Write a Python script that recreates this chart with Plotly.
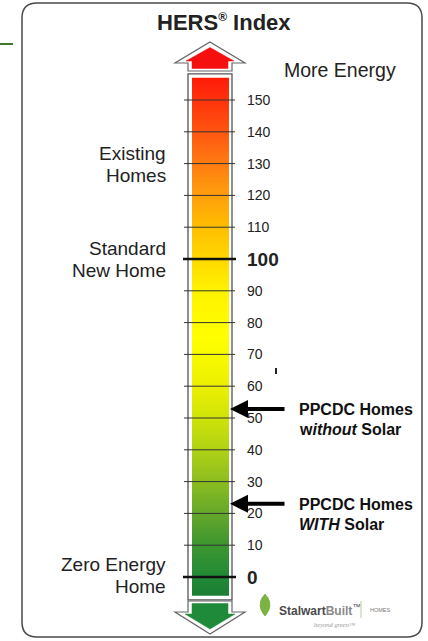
import numpy as np
import plotly.graph_objects as go

# ---- data ----
tick_values = [0, 10, 20, 30, 40, 50, 60, 70, 80, 90, 100, 110, 120, 130, 140, 150]
major_values = [0, 100]
scale_min, scale_max = -6, 157
side_labels = ["Existing<br>Homes", "Standard<br>New Home", "Zero Energy<br>Home"]
side_values = [129.7, 100, 0.5]
ppcdc_labels = ["PPCDC Homes<br>w<i>ithout</i> Solar", "PPCDC Homes<br><i>WITH</i> Solar"]
ppcdc_values = [52.8, 23]
color_stops = [(-6, '#1b7d34'), (0, '#218a36'), (10, '#3d9630'), (20, '#66a82a'),
               (30, '#8cbd20'), (40, '#b0d214'), (50, '#d0e30a'), (60, '#ecf000'),
               (75, '#ffff00'), (90, '#fff200'), (100, '#ffd800'), (110, '#ffbe00'),
               (120, '#ff9e0c'), (130, '#ff7c12'), (140, '#ff5510'), (157, '#ff1a08')]

W, H = 428, 641
ZERO_PX, PX_PER_UNIT = 577, 3.18
y_lo = (ZERO_PX - H) / PX_PER_UNIT
y_hi = ZERO_PX / PX_PER_UNIT

def pv(py):  # pixel y -> paper y
    return 1 - py / H

FONT = "Liberation Sans, Arial, sans-serif"
fig = go.Figure()

# gradient bar
grad_y = np.linspace(scale_min, scale_max, 300)
zc = [[v] for v in (grad_y[:-1] + grad_y[1:]) / 2]
cs = [[(v - scale_min) / (scale_max - scale_min), c] for v, c in color_stops]
fig.add_trace(go.Heatmap(x=[192, 228.5], y=grad_y, z=zc, colorscale=cs,
                         zmin=scale_min, zmax=scale_max, showscale=False,
                         hoverinfo='skip'))

shapes = []
# frame
r = 15
x0, x1, y0, y1 = 22, 422, 3, 637
path = (f"M {x0+r},{pv(y0)} L {x1-r},{pv(y0)} Q {x1},{pv(y0)} {x1},{pv(y0+r)} "
        f"L {x1},{pv(y1-r)} Q {x1},{pv(y1)} {x1-r},{pv(y1)} L {x0+r},{pv(y1)} "
        f"Q {x0},{pv(y1)} {x0},{pv(y1-r)} L {x0},{pv(y0+r)} Q {x0},{pv(y0)} {x0+r},{pv(y0)} Z")
shapes.append(dict(type='path', path=path, xref='x', yref='paper',
                   line=dict(color='#4a4a4a', width=1.5), layer='below'))
# green line at left
shapes.append(dict(type='line', x0=0, x1=13, y0=pv(44), y1=pv(44), xref='x', yref='paper',
                   line=dict(color='#3d7a2e', width=2)))
# small stray mark
shapes.append(dict(type='line', x0=276, x1=276, y0=pv(368), y1=pv(374), xref='x', yref='paper',
                   line=dict(color='#222', width=2)))
# bar outline (white inner band via fill)
shapes.append(dict(type='rect', x0=188, x1=232, y0=scale_min - 1.2, y1=scale_max + 1.2,
                   xref='x', yref='y', fillcolor='white',
                   line=dict(color='#555', width=1.3), layer='below'))

def arrow(pts):
    return "M " + " L ".join(f"{x},{pv(y)}" for x, y in pts) + " Z"

# up arrow
up_outer = [(210, 42), (245, 63), (232, 63), (232, 71), (188, 71), (188, 63), (175, 63)]
up_inner = [(210, 47.5), (234, 61), (228, 61), (228, 68.5), (192, 68.5), (192, 61), (186, 61)]
shapes.append(dict(type='path', path=arrow(up_outer), xref='x', yref='paper',
                   fillcolor='white', line=dict(color='#666', width=1.2)))
shapes.append(dict(type='path', path=arrow(up_inner), xref='x', yref='paper',
                   fillcolor='#f50f0f', line=dict(color='#f50f0f', width=0.5)))
# down arrow
dn_outer = [(188, 601), (232, 601), (232, 612), (245, 612), (210, 634), (175, 612), (188, 612)]
dn_inner = [(192, 603.5), (228, 603.5), (228, 614), (235, 614), (210, 629), (185, 614), (192, 614)]
shapes.append(dict(type='path', path=arrow(dn_outer), xref='x', yref='paper',
                   fillcolor='white', line=dict(color='#666', width=1.2)))
shapes.append(dict(type='path', path=arrow(dn_inner), xref='x', yref='paper',
                   fillcolor='#1f8a3a', line=dict(color='#1f8a3a', width=0.5)))

annotations = []
# ticks
for v in tick_values:
    major = v in major_values
    shapes.append(dict(type='line', x0=183 if major else 184, x1=236 if major else 235,
                       y0=v, y1=v, xref='x', yref='y',
                       line=dict(color='#111' if major else '#333', width=2.6 if major else 1)))
    annotations.append(dict(x=245, y=v, xref='x', yref='y', xanchor='left', yanchor='middle',
                            text=f"<b>{v}</b>" if major else str(v), showarrow=False,
                            font=dict(family=FONT, size=19 if major else 14, color='#222')))

def multiline(text, v, x, xanchor, spacing_px, size, color, weight_bold=False):
    lines = text.split("<br>")
    n = len(lines)
    for i, ln in enumerate(lines):
        off = (i - (n - 1) / 2) * spacing_px / PX_PER_UNIT
        annotations.append(dict(x=x, y=v - off, xref='x', yref='y', xanchor=xanchor,
                                yanchor='middle', showarrow=False,
                                text=f"<b>{ln}</b>" if weight_bold else ln,
                                font=dict(family=FONT, size=size, color=color)))

# side labels
for t, v in zip(side_labels, side_values):
    multiline(t, v, 168, 'right', 22, 19, '#222')
# pointers
for t, v in zip(ppcdc_labels, ppcdc_values):
    annotations.append(dict(x=230, y=v, xref='x', yref='y', ax=286, ay=v, axref='x', ayref='y',
                            text='', showarrow=True, arrowhead=2, arrowsize=0.9, arrowwidth=4,
                            arrowcolor='#000'))
    multiline(t, v - 3.3, 297, 'left', 20.5, 16, '#111', weight_bold=True)
# title & top label
annotations.append(dict(x=224, y=pv(23), xref='x', yref='paper', xanchor='center', yanchor='middle',
                        text="<b>HERS<sup><span style='font-size:12px'>®</span></sup> Index</b>",
                        showarrow=False, font=dict(family=FONT, size=22, color='#222')))
annotations.append(dict(x=340, y=pv(70), xref='x', yref='paper', yanchor='middle', text="More Energy",
                        showarrow=False, font=dict(family=FONT, size=19.5, color='#222')))
# logo
leaf = "M 265,{a} Q 258,{b} 261,{c} Q 263,{d} 265,{e} Q 267,{d} 269,{c} Q 272,{b} 265,{a} Z".format(
    a=pv(594), b=pv(601), c=pv(610), d=pv(614), e=pv(616))
shapes.append(dict(type='path', path=leaf, xref='x', yref='paper', fillcolor='#7cb342',
                   line=dict(color='#5e9a2a', width=0.5)))
shapes.append(dict(type='line', x0=361, x1=361, y0=pv(601), y1=pv(618), xref='x', yref='paper',
                   line=dict(color='#b5cf9a', width=1)))
annotations.append(dict(x=277, y=pv(610), xref='x', yref='paper', xanchor='left', yanchor='middle',
                        text="<b><span style='color:#4a4a4a'>Stalwart</span><span style='color:#8a8a8a'>Built</span></b><sup>™</sup>",
                        showarrow=False, font=dict(family=FONT, size=12, color='#555')))
annotations.append(dict(x=368, y=pv(610), xref='x', yref='paper', xanchor='left', yanchor='middle',
                        text="HOMES", showarrow=False, font=dict(family=FONT, size=5.5, color='#777')))
annotations.append(dict(x=312, y=pv(624), xref='x', yref='paper', xanchor='left', yanchor='middle',
                        text="<i>beyond green</i>™", showarrow=False,
                        font=dict(family="Liberation Serif, serif", size=6.5, color='#999')))

fig.update_layout(width=W, height=H, margin=dict(l=0, r=0, t=0, b=0),
                  paper_bgcolor='white', plot_bgcolor='white',
                  xaxis=dict(range=[0, W], visible=False, fixedrange=True),
                  yaxis=dict(range=[y_lo, y_hi], visible=False, fixedrange=True),
                  shapes=shapes, annotations=annotations, showlegend=False)
fig.write_html("out.html", config={'displayModeBar': False},
               post_script="document.body.style.margin='0';document.body.style.overflow='hidden';")
